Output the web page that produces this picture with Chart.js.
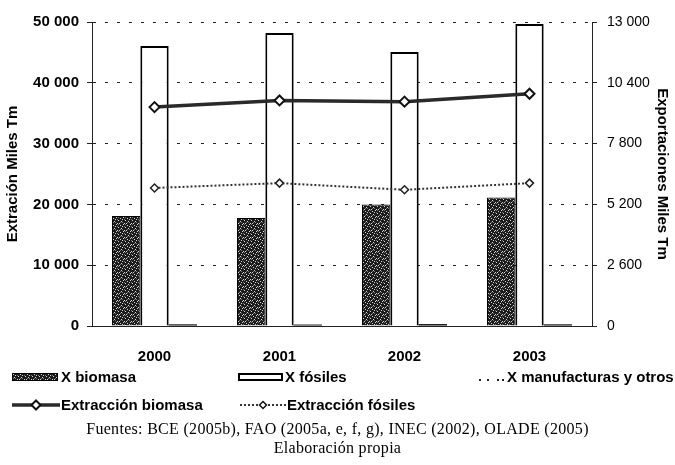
<!DOCTYPE html>
<html>
<head>
<meta charset="utf-8">
<script src="https://cdn.jsdelivr.net/npm/chart.js@4.4.1/dist/chart.umd.min.js"></script>
<style>
  html, body { margin: 0; padding: 0; background: #fff; }
  #wrap { position: relative; width: 675px; height: 465px; overflow: hidden;
          font-family: "Liberation Sans", Arial, sans-serif; color: #000; background: #fff; }
  #c { position: absolute; left: 0; top: 0; }
  .lg { position: absolute; font-weight: bold; font-size: 15px; line-height: 16px; white-space: nowrap; }
  .sw { position: absolute; }
  .cap { position: absolute; left: 0; width: 675px; text-align: center; white-space: nowrap;
         font-family: "Liberation Serif", "Times New Roman", serif; font-size: 16px;
         letter-spacing: 0.3px; line-height: 18px; }
</style>
</head>
<body>
<div id="wrap">
  <canvas id="c" width="675" height="465"></canvas>

  <canvas class="sw" id="sw0" width="46" height="8" style="left:12px;top:373px"></canvas>
  <div class="lg" style="left:61px;top:369px">X biomasa</div>
  <div class="sw" style="left:238px;top:373px;width:45px;height:8px;border:2px solid #000;box-sizing:border-box;background:#fff"></div>
  <div class="lg" style="left:285px;top:369px">X fósiles</div>
  <canvas class="sw" id="sw2" width="46" height="8" style="left:459px;top:373px"></canvas>
  <div class="lg" style="left:507px;top:369px">X manufacturas y otros</div>

  <canvas class="sw" id="sw3" width="48" height="12" style="left:12px;top:399px"></canvas>
  <div class="lg" style="left:61px;top:397px">Extracción biomasa</div>
  <canvas class="sw" id="sw4" width="46" height="12" style="left:240px;top:399px"></canvas>
  <div class="lg" style="left:287px;top:397px">Extracción fósiles</div>

  <div class="cap" style="top:420px">Fuentes: BCE (2005b), FAO (2005a, e, f, g), INEC (2002), OLADE (2005)</div>
  <div class="cap" style="top:439px">Elaboración propia</div>
</div>

<script>
// Years on the category axis
const years = ['2000', '2001', '2002', '2003'];

// Exports (Miles Tm), right axis
const xBiomasa = [4700, 4620, 5200, 5500];
const xFosiles = [11970, 12530, 11720, 12910];
const xManufacturas = [70, 60, 80, 70];

// Extraction (Miles Tm), left axis
const extBiomasa = [36000, 37100, 36900, 38200];
const extFosiles = [22700, 23500, 22400, 23500];

// Tick labels of both value axes
const leftTicks = ['0', '10 000', '20 000', '30 000', '40 000', '50 000'];
const rightTicks = ['0', '2 600', '5 200', '7 800', '10 400', '13 000'];

// Speckled dark fill for the biomass export bars
function speckle() {
  const t = document.createElement('canvas');
  t.width = 7; t.height = 7;
  const g = t.getContext('2d');
  g.fillStyle = '#1b1b1b';
  g.fillRect(0, 0, 7, 7);
  g.fillStyle = '#d8d8d8';
  [[1,1],[4,0],[6,3],[2,4],[5,6],[0,6],[3,2]].forEach(p => g.fillRect(p[0], p[1], 1, 1));
  g.fillStyle = '#777';
  [[5,2],[1,5],[3,5],[6,0]].forEach(p => g.fillRect(p[0], p[1], 1, 1));
  return g.createPattern(t, 'repeat');
}
const biomasaFill = speckle();

const ctx = document.getElementById('c').getContext('2d');
new Chart(ctx, {
  type: 'bar',
  data: {
    labels: years,
    datasets: [
      { label: 'X biomasa', data: xBiomasa, yAxisID: 'yR', order: 2,
        backgroundColor: biomasaFill, borderColor: '#000', borderWidth: 1 },
      { label: 'X fósiles', data: xFosiles, yAxisID: 'yR', order: 2,
        backgroundColor: '#fff', borderColor: '#000', borderWidth: 2 },
      { label: 'X manufacturas y otros', data: xManufacturas, yAxisID: 'yR', order: 2,
        backgroundColor: '#000', borderColor: '#000', borderWidth: 0 },
      { type: 'line', label: 'Extracción biomasa', data: extBiomasa, yAxisID: 'yL', order: 0,
        borderColor: '#2a2a2a', borderWidth: 3.5, tension: 0,
        pointStyle: 'rectRot', pointRadius: 5, pointBackgroundColor: '#fff',
        pointBorderColor: '#111', pointBorderWidth: 2 },
      { type: 'line', label: 'Extracción fósiles', data: extFosiles, yAxisID: 'yL', order: 1,
        borderColor: '#333', borderWidth: 2, borderDash: [2, 2], tension: 0,
        pointStyle: 'rectRot', pointRadius: 4, pointBackgroundColor: '#fff',
        pointBorderColor: '#222', pointBorderWidth: 1.5 }
    ]
  },
  options: {
    responsive: false,
    animation: false,
    layout: { padding: { top: 22, left: 0, right: 0, bottom: 0 } },
    plugins: { legend: { display: false }, tooltip: { enabled: false } },
    datasets: { bar: { categoryPercentage: 0.68, barPercentage: 1.0 } },
    scales: {
      x: {
        grid: { display: false },
        border: { display: true, color: '#222', dash: [3, 7], width: 1 },
        ticks: { color: '#000', padding: 14, font: { family: 'Liberation Sans', size: 15, weight: 'bold' } },
        afterFit: s => { s.height = 139; }
      },
      yL: {
        position: 'left', min: 0, max: 50000,
        ticks: { stepSize: 10000, color: '#000', padding: 8,
                 font: { family: 'Liberation Sans', size: 15, weight: 'bold' },
                 callback: (v, i) => leftTicks[i] },
        grid: { color: '#222', lineWidth: 1, tickLength: 5, tickColor: '#222' },
        // dashes of the axis line and of the horizontal grid lines
        border: { display: true, color: '#222', dash: [3, 9] },
        title: { display: true, text: 'Extración Miles Tm', color: '#000', padding: 4,
                 font: { family: 'Liberation Sans', size: 15, weight: 'bold' } },
        afterFit: s => { s.width = 92; }
      },
      yR: {
        position: 'right', min: 0, max: 13000,
        ticks: { stepSize: 2600, color: '#000', padding: 10,
                 font: { family: 'Liberation Sans', size: 14 },
                 callback: (v, i) => rightTicks[i] },
        grid: { drawOnChartArea: false, tickLength: 5, tickColor: '#222' },
        border: { display: true, color: '#222', dash: [3, 7] },
        title: { display: true, text: 'Exportaciones Miles Tm', color: '#000', padding: 4,
                 font: { family: 'Liberation Sans', size: 15, weight: 'bold' } },
        afterFit: s => { s.width = 83; }
      }
    }
  }
});

// legend swatches
(function () {
  const a = document.getElementById('sw0').getContext('2d');
  a.fillStyle = biomasaFill; a.fillRect(0, 0, 46, 8);
  a.strokeStyle = '#000'; a.lineWidth = 1; a.strokeRect(0.5, 0.5, 45, 7);

  const m = document.getElementById('sw2').getContext('2d');
  m.fillStyle = '#222';
  [20, 28, 38, 43].forEach(x => m.fillRect(x, 6, 2, 2));

  function diamond(g, cx, cy, r, lw) {
    g.beginPath();
    g.moveTo(cx, cy - r); g.lineTo(cx + r, cy); g.lineTo(cx, cy + r); g.lineTo(cx - r, cy); g.closePath();
    g.fillStyle = '#fff'; g.fill();
    g.lineWidth = lw; g.strokeStyle = '#111'; g.stroke();
  }
  const b = document.getElementById('sw3').getContext('2d');
  b.strokeStyle = '#2a2a2a'; b.lineWidth = 3.5;
  b.beginPath(); b.moveTo(0, 6); b.lineTo(48, 6); b.stroke();
  diamond(b, 24, 6, 4.5, 2);

  const f = document.getElementById('sw4').getContext('2d');
  f.strokeStyle = '#333'; f.lineWidth = 2; f.setLineDash([2, 2]);
  f.beginPath(); f.moveTo(0, 6); f.lineTo(46, 6); f.stroke();
  f.setLineDash([]);
  diamond(f, 23, 6, 3.5, 1.5);
})();
</script>
</body>
</html>
